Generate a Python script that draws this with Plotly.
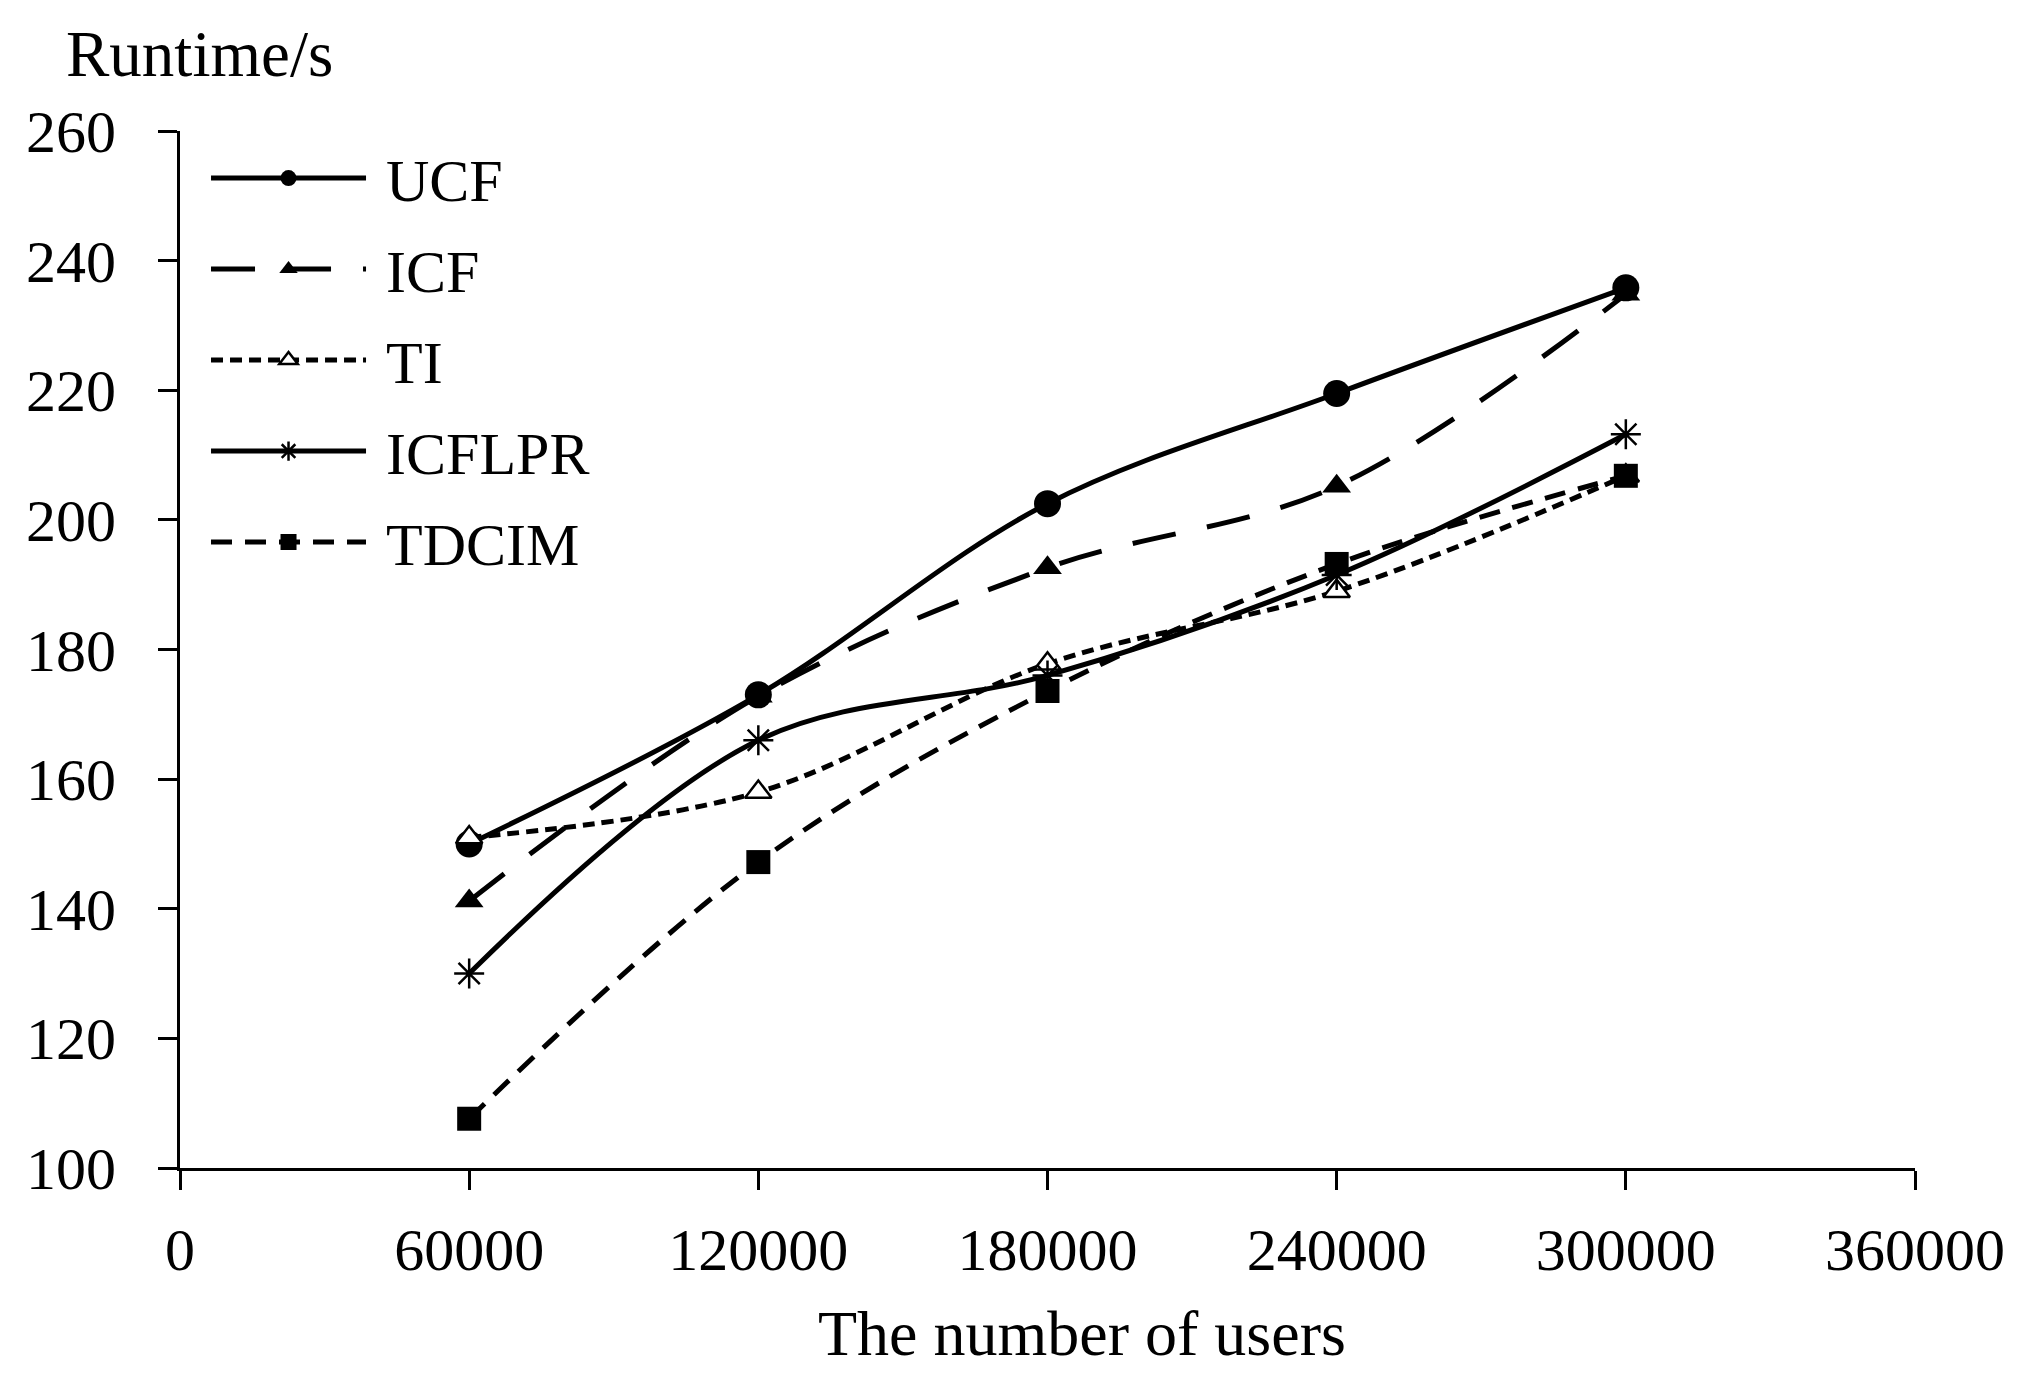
import plotly.graph_objects as go

# data
users = [60000, 120000, 180000, 240000, 300000]
ucf = [150.0, 173.0, 202.5, 219.5, 235.8]
icf = [141.2, 172.8, 192.6, 205.2, 234.8]
ti = [151.0, 158.0, 177.8, 189.0, 206.8]
icflpr = [130.0, 166.0, 176.0, 191.5, 213.2]
tdcim = [107.6, 147.2, 173.6, 193.2, 206.8]

x_ticks = [0, 60000, 120000, 180000, 240000, 300000, 360000]
y_ticks = [100, 120, 140, 160, 180, 200, 220, 240, 260]

FONT = "Liberation Serif"
NB = "\u00a0"  # small gap between legend line and label

series = [
    ("UCF", ucf, "solid", dict(symbol="circle", size=27, color="black")),
    ("ICF", icf, "44px,32px", dict(symbol="triangle-up", size=25, color="black")),
    ("TI", ti, "12px,7px", dict(symbol="triangle-up", size=23, color="white",
                                line=dict(color="black", width=2.5))),
    ("ICFLPR", icflpr, "solid", dict(symbol="asterisk-open", size=25, color="black",
                                     line=dict(color="black", width=2.5))),
    ("TDCIM", tdcim, "21px,13px", dict(symbol="square", size=24, color="black")),
]

fig = go.Figure()
for name, vals, dash, marker in series:
    fig.add_trace(go.Scatter(
        x=users, y=vals, name=NB + name, legendgroup=name,
        mode="lines+markers",
        line=dict(color="black", width=5, dash=dash, shape="spline", smoothing=1.0),
        marker=marker,
    ))

fig.update_layout(
    width=2028, height=1380,
    margin=dict(l=172, r=121, t=123, b=220),
    paper_bgcolor="white", plot_bgcolor="white",
    font=dict(family=FONT, size=60, color="black"),
    showlegend=True,
    legend=dict(x=0.015, y=0.9985, xanchor="left", yanchor="top",
                bgcolor="rgba(0,0,0,0)", itemwidth=155, tracegroupgap=10,
                font=dict(family=FONT, size=60)),
    annotations=[
        dict(text="Runtime/s", xref="paper", yref="paper", x=-0.067, y=1.074,
             xanchor="left", yanchor="middle", showarrow=False,
             font=dict(family=FONT, size=65)),
        dict(text="The number of users", xref="paper", yref="paper", x=0.52, y=-0.1595,
             xanchor="center", yanchor="middle", showarrow=False,
             font=dict(family=FONT, size=64)),
    ],
)

fig.update_xaxes(
    range=[0, 360000], tickvals=x_ticks, ticktext=[str(v) for v in x_ticks],
    showgrid=False, zeroline=False, showline=True, linecolor="black", linewidth=3,
    ticks="outside", ticklen=19, tickwidth=3, tickcolor="black",
    ticklabelstandoff=8, tickfont=dict(family=FONT, size=60),
)
fig.update_yaxes(
    range=[100, 260], tickvals=y_ticks,
    showgrid=False, zeroline=False, showline=True, linecolor="black", linewidth=3,
    ticks="outside", ticklen=19, tickwidth=3, tickcolor="black",
    ticklabelstandoff=30, tickfont=dict(family=FONT, size=60),
)

fig.write_html("out.html")
